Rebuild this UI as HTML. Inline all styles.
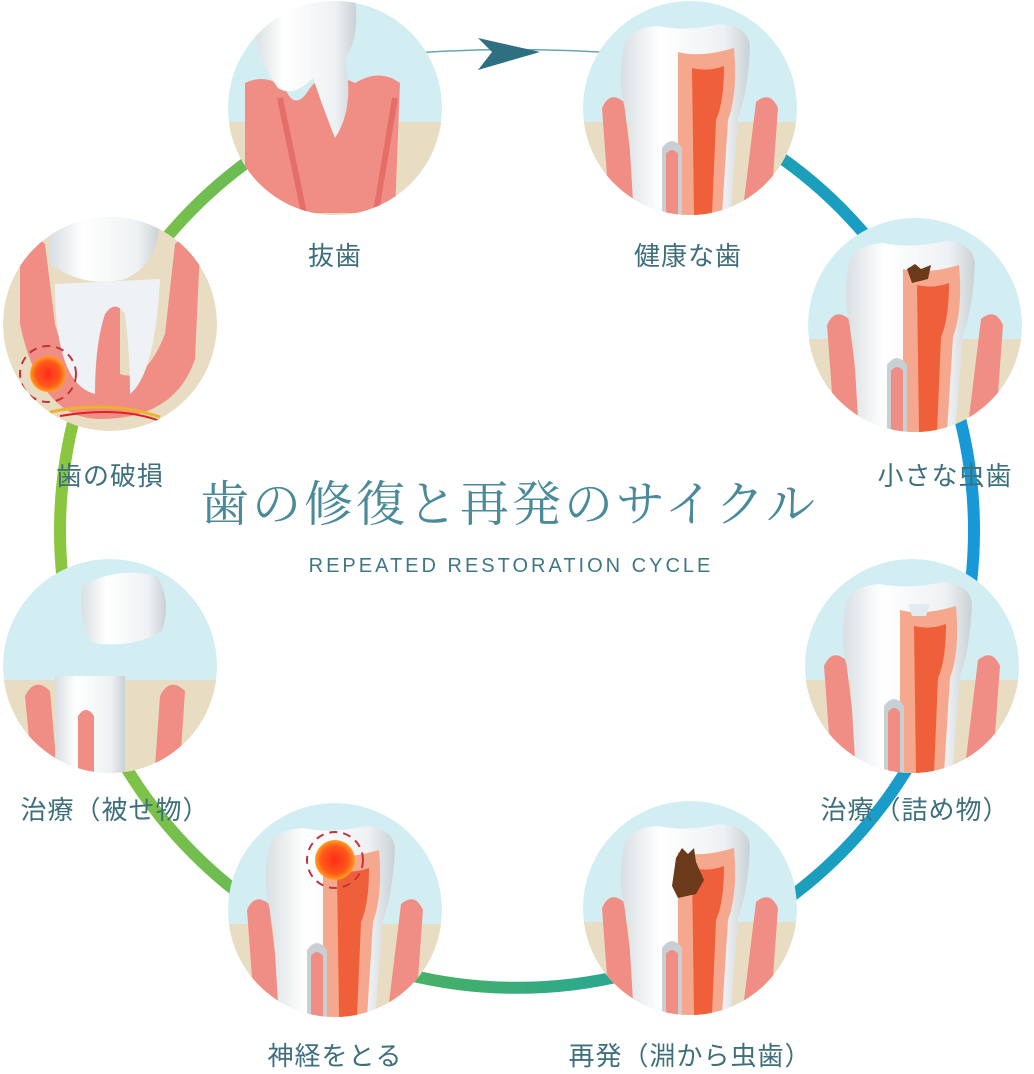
<!DOCTYPE html>
<html><head><meta charset="utf-8"><style>
html,body{margin:0;padding:0;background:#fff;}
svg{display:block;}
.lbl{font-family:"Liberation Sans","Noto Sans CJK JP",sans-serif;font-size:26px;fill:#3e6f7d;text-anchor:middle;letter-spacing:1px;}
</style></head><body>
<svg width="1034" height="1074" viewBox="0 0 1034 1074" xmlns="http://www.w3.org/2000/svg">
<defs>
<linearGradient id="ring" gradientUnits="userSpaceOnUse" x1="60" y1="300" x2="970" y2="300">
<stop offset="0" stop-color="#8cc63f"/><stop offset="0.45" stop-color="#3fae6f"/><stop offset="0.7" stop-color="#1ea3a8"/><stop offset="1" stop-color="#1799d8"/>
</linearGradient>
<linearGradient id="toothG" x1="0" y1="0" x2="1" y2="0">
<stop offset="0" stop-color="#d9dfe2"/><stop offset="0.3" stop-color="#ffffff"/><stop offset="0.8" stop-color="#eef1f3"/><stop offset="1" stop-color="#c9d0d4"/>
</linearGradient>
<radialGradient id="pain"><stop offset="0" stop-color="#ff2a1a"/><stop offset="0.7" stop-color="#ff5a1a"/><stop offset="1" stop-color="#ffa020"/></radialGradient>
<clipPath id="cc"><circle cx="0" cy="0" r="107"/></clipPath>
<g id="bg">
<circle r="107" fill="#d2eef2"/>
<rect x="-110" y="14" width="220" height="110" fill="#e8dcc2"/>
</g>
<g id="tooth">
<path d="M-88,0 q8,-18 22,-6 l14,115 h-28z" fill="#f08e86"/>
<path d="M88,0 q-8,-18 -22,-6 l-14,115 h28z" fill="#f08e86"/>
<path d="M-66,-62 q4,-18 34,-20 q28,6 62,-2 q28,2 30,22 q-2,45 -12,72 l-8,100 h-96 l-6,-100 q-12,-32 -4,-72z" fill="url(#toothG)"/>
<path d="M-12,-56 q22,6 56,-4 q4,45 -6,72 l-6,95 h-44 z" fill="#f6a88e"/>
<path d="M2,-40 q16,4 32,-2 q0,36 -8,54 l-4,95 h-18 z" fill="#ef5f3a"/>
<path d="M-28,40 q10,-14 20,0 v75 h-20z" fill="#c9d0d4"/>
<path d="M-24,46 q6,-8 12,0 v70 h-12z" fill="#f08e86"/>
</g>
</defs>

<path d="M688,107 A457 457 0 1 1 346,107" fill="none" stroke="url(#ring)" stroke-width="12"/>
<path d="M360,58 Q520,40 690,60" fill="none" stroke="#6aa6b0" stroke-width="1.5"/>
<path d="M478,38 L540,52 L478,70 L492,52z" fill="#2e6f82"/>

<g transform="translate(335,108)"><g clip-path="url(#cc)">
<use href="#bg"/>
<path d="M-90,-25 q20,-10 40,5 q10,25 25,0 q15,-20 45,-5 q25,-15 45,0 l-5,130 h-150z" fill="#f08e86"/>
<path d="M-55,-10 l25,120 M60,-10 l-20,120" stroke="#e66e68" stroke-width="6"/>
<path d="M-80,-110 q40,-20 100,0 q5,40 -10,60 q10,50 -10,80 q-12,-30 -22,-60 q-20,20 -35,10 q-30,-40 -23,-90z" fill="url(#toothG)"/>
</g></g>

<g transform="translate(690,108)"><g clip-path="url(#cc)"><use href="#bg"/><use href="#tooth"/></g></g>

<g transform="translate(915,325)"><g clip-path="url(#cc)"><use href="#bg"/><use href="#tooth"/>
<path d="M-8,-56 l8,-5 l6,5 l10,-4 l-3,14 l-16,4z" fill="#6a3a1a"/></g></g>

<g transform="translate(912,666)"><g clip-path="url(#cc)"><use href="#bg"/><use href="#tooth"/>
<path d="M-4,-62 h22 l-4,12 h-14z" fill="#e2ecf0"/></g></g>

<g transform="translate(690,908)"><g clip-path="url(#cc)"><use href="#bg"/><use href="#tooth"/>
<path d="M-14,-50 l6,-10 l6,6 l6,-6 l2,14 l8,18 l-8,14 l-18,4 l-6,-12z" fill="#6a3a1a"/></g></g>

<g transform="translate(335,910)"><g clip-path="url(#cc)"><use href="#bg"/><use href="#tooth"/>
<circle cx="0" cy="-50" r="20" fill="url(#pain)"/>
<circle cx="0" cy="-50" r="28" fill="none" stroke="#c0353a" stroke-width="2" stroke-dasharray="8 6"/></g></g>

<g transform="translate(110,666)"><g clip-path="url(#cc)"><use href="#bg"/>
<path d="M-85,30 q10,-20 25,-5 l8,90 h-25z M50,30 q10,-20 25,-5 l-6,90 h-25z" fill="#f08e86"/>
<path d="M-55,10 h70 v100 h-70z" fill="url(#toothG)"/>
<path d="M-32,50 q8,-12 16,0 v60 h-16z" fill="#f08e86"/>
<path d="M-28,-80 q35,-20 75,-10 q15,25 5,55 q-30,18 -70,12 q-14,-25 -10,-57z" fill="url(#toothG)"/>
</g></g>

<g transform="translate(110,324)"><g clip-path="url(#cc)">
<circle r="107" fill="#e8dcc2"/>
<path d="M-90,-80 q15,-10 25,0 l10,80 q10,40 40,40 l5,-70 q10,-15 20,0 v80 q25,10 45,-40 l10,-90 q10,-10 25,5 l-5,110 q-20,60 -95,60 q-60,0 -80,-95z" fill="#f08e86"/>
<path d="M-60,-110 h110 q0,50 -35,65 q-40,10 -75,-15z" fill="url(#toothG)"/>
<path d="M-55,-40 q0,100 40,110 q0,-50 10,-80 q10,-15 20,0 q5,40 5,80 q25,-20 30,-115z" fill="#eef2f4"/>
<circle cx="-62" cy="50" r="18" fill="url(#pain)"/>
<circle cx="-62" cy="50" r="28" fill="none" stroke="#c0353a" stroke-width="2" stroke-dasharray="8 6"/>
<path d="M-60,88 q60,-12 110,5" fill="none" stroke="#f0b030" stroke-width="3"/>
<path d="M-50,92 q60,-10 100,5" fill="none" stroke="#d22" stroke-width="2"/>
</g></g>

<text class="lbl" x="335" y="265">抜歯</text>
<text class="lbl" x="688" y="265">健康な歯</text>
<text class="lbl" x="945" y="485">小さな虫歯</text>
<text class="lbl" x="915" y="819">治療（詰め物）</text>
<text class="lbl" x="690" y="1065">再発（淵から虫歯）</text>
<text class="lbl" x="335" y="1065">神経をとる</text>
<text class="lbl" x="115" y="819">治療（被せ物）</text>
<text class="lbl" x="110" y="485">歯の破損</text>

<text x="509" y="521" text-anchor="middle" font-family="'Liberation Serif','Noto Serif CJK SC',serif" font-size="49" fill="#4a8a99" letter-spacing="3">歯の修復と再発のサイクル</text>
<text x="511" y="572" text-anchor="middle" font-family="'Liberation Sans',sans-serif" font-size="20" fill="#3e7887" letter-spacing="3">REPEATED RESTORATION CYCLE</text>
</svg>
</body></html>
